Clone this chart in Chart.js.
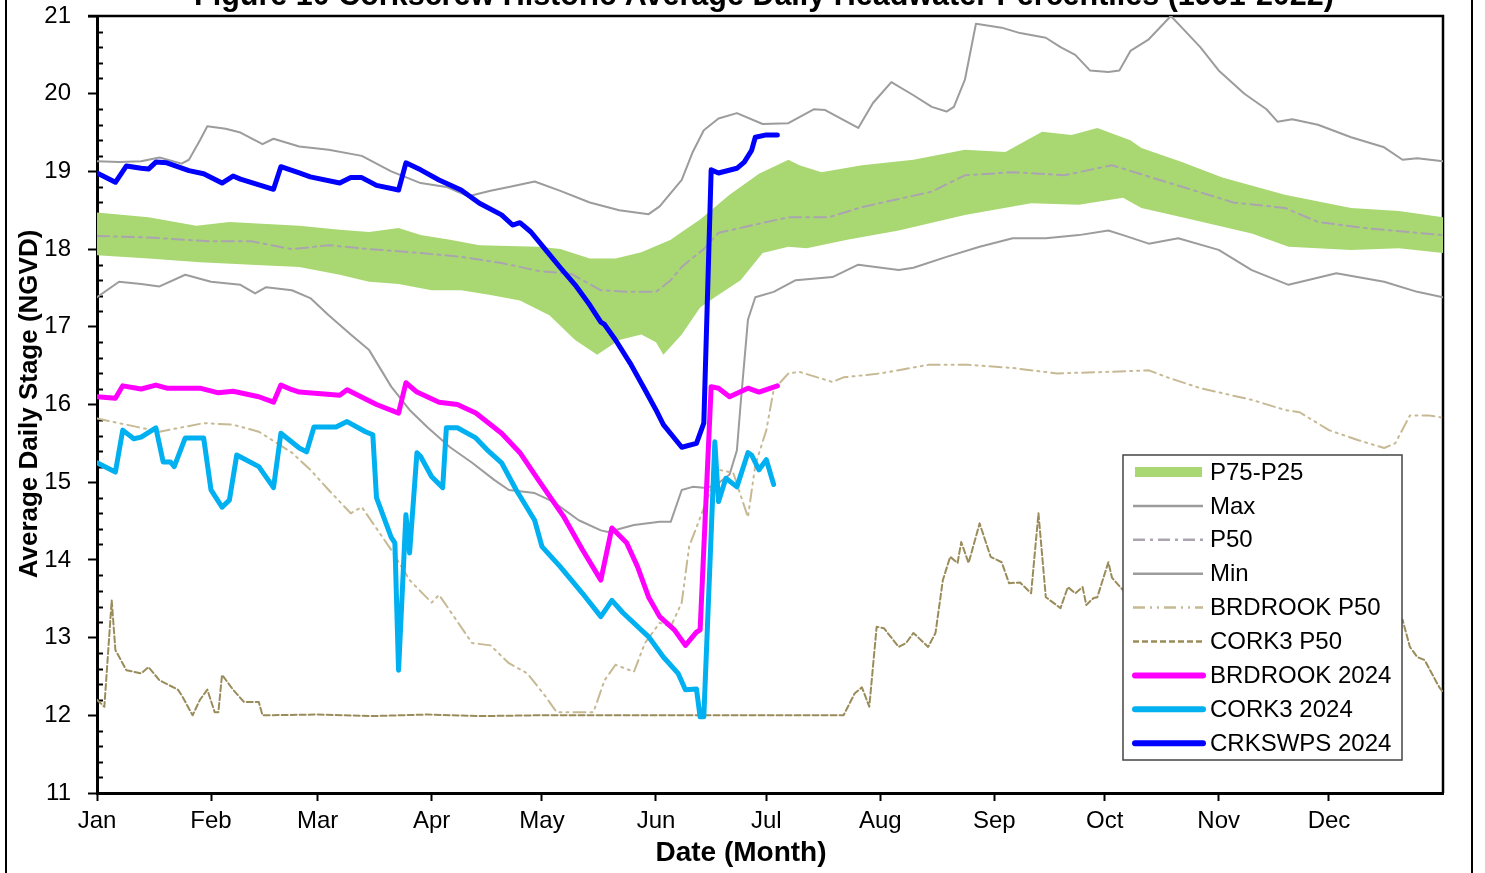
<!DOCTYPE html>
<html>
<head>
<meta charset="utf-8">
<script src="https://cdn.jsdelivr.net/npm/chart.js@4.4.1/dist/chart.umd.min.js"></script>
<style>
  html, body { margin: 0; padding: 0; background: #fff; }
  canvas { display: block; }
</style>
</head>
<body>
<canvas id="stageChart" width="1485" height="873"></canvas>
<script>
// ---- Day-of-year axis (2024, leap year) ----
const monthStarts = [0, 31, 60, 91, 121, 152, 182, 213, 244, 274, 305, 335];
const monthNames = ['Jan', 'Feb', 'Mar', 'Apr', 'May', 'Jun', 'Jul', 'Aug', 'Sep', 'Oct', 'Nov', 'Dec'];
const stageTicks = [11, 12, 13, 14, 15, 16, 17, 18, 19, 20, 21];

// ---- Historic percentiles (1991-2022) ----
const maxDay = [0,6,12,17,23,25,28,30,35,39,45,48,55,63,72,80,88,95,101,107,112,119,126,134,142,150,153,156,159,162,165,169,174,181,188,195,198,207,211,216,222,227,231,233,236,239,246,251,258,262,266,270,275,278,281,286,292,295,300,305,312,318,321,325,332,341,350,355,359,366];
const maxStage = [19.13,19.12,19.13,19.18,19.10,19.15,19.40,19.58,19.55,19.50,19.35,19.42,19.32,19.28,19.20,19.00,18.85,18.80,18.68,18.75,18.80,18.87,18.75,18.60,18.50,18.45,18.55,18.72,18.89,19.25,19.53,19.68,19.75,19.61,19.62,19.80,19.79,19.56,19.88,20.15,19.98,19.83,19.77,19.83,20.18,20.90,20.85,20.78,20.72,20.60,20.50,20.30,20.28,20.30,20.55,20.70,21.00,20.85,20.60,20.30,20.00,19.80,19.64,19.67,19.60,19.44,19.31,19.15,19.17,19.13];

const minDay = [0,6,12,17,24,31,39,43,46,53,58,63,69,74,80,85,90,96,102,108,112,119,124,131,137,139,146,153,156,159,162,165,168,172,174,175,177,179,184,190,200,207,218,222,231,240,249,258,267,275,279,286,294,305,314,324,337,350,359,366];
const minStage = [17.38,17.58,17.55,17.52,17.67,17.58,17.54,17.43,17.51,17.47,17.37,17.15,16.90,16.70,16.23,15.93,15.70,15.45,15.25,15.03,14.90,14.86,14.75,14.51,14.38,14.36,14.45,14.49,14.49,14.90,14.94,14.93,14.95,15.10,15.41,16.00,17.09,17.38,17.45,17.60,17.64,17.80,17.73,17.76,17.90,18.03,18.14,18.14,18.18,18.24,18.18,18.07,18.14,17.99,17.73,17.54,17.69,17.58,17.45,17.38];

const p50Day = [0,14,31,42,53,63,74,88,99,110,120,129,137,145,152,156,159,161,165,169,188,199,208,227,236,249,263,276,291,309,323,332,345,359,366];
const p50Stage = [18.17,18.15,18.10,18.10,18.00,18.05,18.00,17.95,17.90,17.82,17.72,17.68,17.47,17.45,17.45,17.60,17.77,17.85,18.00,18.21,18.41,18.41,18.54,18.74,18.95,18.99,18.95,19.08,18.86,18.60,18.53,18.35,18.27,18.21,18.18];

const p75Day = [0,14,27,36,55,66,74,82,88,96,104,120,126,134,141,148,156,159,164,172,180,188,191,197,208,222,236,247,257,265,272,281,284,295,306,323,341,354,366];
const p75Stage = [18.47,18.41,18.30,18.35,18.30,18.25,18.22,18.27,18.18,18.12,18.05,18.03,18.00,17.88,17.88,17.96,18.12,18.22,18.38,18.70,18.97,19.15,19.08,18.99,19.08,19.15,19.28,19.25,19.51,19.47,19.56,19.40,19.30,19.12,18.92,18.70,18.53,18.49,18.41];

const p25Day = [0,14,28,42,55,66,74,82,91,99,107,115,123,130,136,142,148,152,154,159,164,168,175,181,188,193,204,218,236,254,267,279,284,295,314,324,341,354,366];
const p25Stage = [17.92,17.88,17.83,17.80,17.77,17.67,17.58,17.55,17.47,17.47,17.41,17.34,17.15,16.83,16.64,16.83,16.90,16.80,16.64,16.90,17.25,17.38,17.60,17.95,18.03,18.01,18.12,18.24,18.44,18.59,18.57,18.66,18.53,18.41,18.20,18.03,17.99,18.01,17.95];

// ---- Nearby gauge medians ----
const brdP50Day = [0,17,29,37,44,53,58,63,69,72,80,85,91,93,102,107,112,117,122,125,135,138,141,146,149,153,156,159,161,169,173,177,179,182,184,188,191,200,203,213,226,237,249,261,275,286,291,300,314,323,327,335,343,350,353,357,362,366];
const brdP50Stage = [15.82,15.65,15.76,15.74,15.65,15.38,15.16,14.90,14.60,14.68,14.13,13.74,13.45,13.55,12.93,12.90,12.67,12.54,12.24,12.04,12.04,12.45,12.65,12.56,12.93,13.19,13.14,13.45,14.17,15.16,15.12,14.55,15.22,15.67,16.19,16.40,16.42,16.29,16.35,16.40,16.51,16.51,16.47,16.40,16.42,16.44,16.35,16.21,16.06,15.93,15.90,15.67,15.54,15.44,15.50,15.86,15.86,15.83];

const cork3P50Day = [0,2,4,5,8,12,14,17,22,23,26,28,30,32,33,34,37,40,44,45,60,75,90,105,120,135,150,165,180,195,203,206,208,210,212,214,218,220,222,226,228,230,232,234,235,237,240,243,246,248,251,254,256,258,262,264,266,268,269,271,272,275,276,279,289,300,316,327,341,349,353,355,357,359,361,365,366];
const cork3P50Stage = [12.20,12.11,13.48,12.84,12.58,12.54,12.62,12.45,12.33,12.26,12.00,12.20,12.33,12.04,12.04,12.52,12.33,12.17,12.17,12.00,12.01,11.99,12.01,11.99,12.00,12.00,12.00,12.00,12.00,12.00,12.00,12.28,12.36,12.11,13.14,13.12,12.88,12.93,13.06,12.88,13.06,13.74,14.04,13.96,14.23,13.96,14.47,14.04,13.97,13.70,13.71,13.57,14.60,13.52,13.38,13.65,13.57,13.65,13.42,13.51,13.52,13.97,13.77,13.61,13.50,13.40,13.50,13.30,13.30,13.20,13.15,13.23,12.88,12.75,12.71,12.36,12.30];

// ---- 2024 daily stages ----
const brd2024Day = [0,5,7,12,16,19,28,33,37,44,48,50,53,55,66,68,76,82,84,87,93,98,103,110,115,120,127,132,137,140,144,147,150,153,157,160,163,164,167,169,172,177,180,185];
const brd2024Stage = [16.10,16.08,16.24,16.20,16.25,16.21,16.21,16.15,16.17,16.10,16.03,16.25,16.19,16.16,16.12,16.19,16.00,15.89,16.28,16.16,16.03,16.00,15.89,15.63,15.38,15.03,14.55,14.13,13.74,14.41,14.22,13.91,13.52,13.27,13.10,12.90,13.07,13.10,16.23,16.21,16.10,16.21,16.16,16.24];

const cork2024Day = [0,5,7,10,12,16,18,20,21,24,28,29,31,34,36,38,44,48,50,55,57,59,65,68,73,75,76,80,81,82,84,85,87,88,91,94,95,98,103,106,110,114,119,121,126,132,137,140,143,150,154,158,160,163,164,165,168,169,171,174,177,178,180,182,184];
const cork2024Stage = [15.25,15.13,15.67,15.56,15.58,15.70,15.26,15.26,15.20,15.57,15.57,15.57,14.90,14.68,14.77,15.35,15.20,14.93,15.63,15.44,15.39,15.71,15.71,15.78,15.65,15.61,14.80,14.29,14.22,12.58,14.58,14.09,15.38,15.33,15.07,14.93,15.70,15.70,15.57,15.42,15.25,14.90,14.51,14.17,13.91,13.57,13.27,13.48,13.32,13.01,12.75,12.54,12.33,12.34,11.98,11.98,15.52,14.75,15.05,14.94,15.38,15.35,15.16,15.29,14.97];

const crk2024Day = [0,5,8,12,14,16,19,25,29,34,37,39,48,50,55,58,66,69,72,76,82,84,88,93,99,104,110,113,115,118,122,126,130,134,137,138,141,145,149,152,154,159,163,165,167,169,174,176,178,179,182,185];
const crk2024Stage = [18.98,18.86,19.07,19.04,19.03,19.12,19.11,19.01,18.97,18.85,18.94,18.90,18.77,19.06,18.98,18.93,18.85,18.92,18.92,18.82,18.76,19.11,19.02,18.89,18.76,18.59,18.44,18.31,18.34,18.22,17.99,17.76,17.54,17.28,17.06,17.03,16.83,16.53,16.19,15.93,15.74,15.45,15.50,15.76,19.02,18.98,19.04,19.12,19.27,19.44,19.47,19.47];

const chartTitle = 'Figure 10 Corkscrew Historic Average Daily Headwater Percentiles (1991-2022)';
const xTitle = 'Date (Month)';
const yTitle = 'Average Daily Stage (NGVD)';

const FONT = '"Liberation Sans", Arial, Helvetica, sans-serif';

function pts(days, vals) {
  return days.map((d, i) => ({ x: d, y: vals[i] }));
}

const bandColor = '#a9d873';

const datasets = [
  { label: 'P75-P25', data: pts(p75Day, p75Stage), borderWidth: 0, borderColor: 'rgba(0,0,0,0)',
    backgroundColor: bandColor, fill: '+1', order: 20, legendBand: true },
  { label: 'P25', data: pts(p25Day, p25Stage), borderWidth: 0, borderColor: 'rgba(0,0,0,0)',
    fill: false, order: 21, noLegend: true },
  { label: 'Max', data: pts(maxDay, maxStage), borderColor: '#9c9c9c', borderWidth: 2, order: 9 },
  { label: 'P50', data: pts(p50Day, p50Stage), borderColor: '#aaa4b0', borderWidth: 2,
    borderDash: [12, 5, 3, 5], order: 8 },
  { label: 'Min', data: pts(minDay, minStage), borderColor: '#9c9c9c', borderWidth: 2, order: 7 },
  { label: 'BRDROOK P50', data: pts(brdP50Day, brdP50Stage), borderColor: '#c6b993', borderWidth: 2,
    borderDash: [12, 5, 2, 5, 2, 5], order: 6 },
  { label: 'CORK3 P50', data: pts(cork3P50Day, cork3P50Stage), borderColor: '#9a8c5a', borderWidth: 2,
    borderDash: [6, 3], order: 5 },
  { label: 'BRDROOK 2024', data: pts(brd2024Day, brd2024Stage), borderColor: '#ff00ff', borderWidth: 5, order: 3 },
  { label: 'CORK3 2024', data: pts(cork2024Day, cork2024Stage), borderColor: '#00b0f0', borderWidth: 5, order: 2 },
  { label: 'CRKSWPS 2024', data: pts(crk2024Day, crk2024Stage), borderColor: '#0000ff', borderWidth: 5, order: 1 }
];

const decorations = {
  id: 'decorations',
  beforeDatasetsDraw(chart) {
    const { ctx, chartArea: a } = chart;
    const y = chart.scales.y;
    ctx.save();
    // top and right plot border
    ctx.strokeStyle = '#000';
    ctx.lineWidth = 2.5;
    ctx.beginPath();
    ctx.moveTo(a.left - 9, a.top);
    ctx.lineTo(a.right, a.top);
    ctx.lineTo(a.right, a.bottom);
    ctx.stroke();
    // minor ticks on the stage axis, every 0.2 ft
    ctx.lineWidth = 2;
    for (let i = 0; i <= 50; i++) {
      if (i % 5 === 0) continue;
      const py = Math.round(y.getPixelForValue(11 + i * 0.2)) + 0.5;
      ctx.beginPath();
      ctx.moveTo(a.left, py);
      ctx.lineTo(a.left + 6, py);
      ctx.stroke();
    }
    ctx.restore();
  },
  afterDraw(chart) {
    const { ctx } = chart;
    ctx.save();
    // outer figure frame
    ctx.strokeStyle = '#000';
    ctx.lineWidth = 2;
    ctx.beginPath();
    ctx.moveTo(6, 0); ctx.lineTo(6, 873);
    ctx.moveTo(1472, 0); ctx.lineTo(1472, 873);
    ctx.stroke();

    // chart title
    ctx.fillStyle = '#000';
    ctx.font = 'bold 30.5px ' + FONT;
    ctx.textAlign = 'center';
    ctx.textBaseline = 'alphabetic';
    ctx.fillText(chartTitle, 764, 5);

    // axis titles
    ctx.font = 'bold 28px ' + FONT;
    ctx.fillText(xTitle, 741, 861);
    ctx.save();
    ctx.translate(37, 404);
    ctx.rotate(-Math.PI / 2);
    ctx.font = 'bold 26px ' + FONT;
    ctx.fillText(yTitle, 0, 0);
    ctx.restore();

    // legend box
    const lx = 1123, ly = 455, lw = 279, lh = 305;
    ctx.fillStyle = '#fff';
    ctx.fillRect(lx, ly, lw, lh);
    ctx.strokeStyle = '#444';
    ctx.lineWidth = 1.5;
    ctx.strokeRect(lx, ly, lw, lh);
    const items = chart.data.datasets.filter(d => !d.noLegend);
    ctx.font = '24px ' + FONT;
    ctx.textAlign = 'left';
    ctx.textBaseline = 'middle';
    items.forEach((d, i) => {
      const cy = 472 + i * 33.9;
      if (d.legendBand) {
        ctx.fillStyle = d.backgroundColor;
        ctx.fillRect(1135, cy - 5, 67, 10);
      } else {
        ctx.save();
        ctx.strokeStyle = d.borderColor;
        ctx.lineWidth = d.borderWidth >= 4 ? 6 : 2.5;
        ctx.lineCap = d.borderWidth >= 4 ? 'round' : 'butt';
        ctx.setLineDash(d.borderDash || []);
        ctx.beginPath();
        ctx.moveTo(d.borderWidth >= 4 ? 1135 : 1133, cy);
        ctx.lineTo(1203, cy);
        ctx.stroke();
        ctx.restore();
      }
      ctx.fillStyle = '#000';
      ctx.fillText(d.label, 1210, cy + 1);
    });
    ctx.restore();
  }
};

new Chart(document.getElementById('stageChart'), {
  type: 'line',
  data: { datasets },
  options: {
    responsive: false,
    animation: false,
    devicePixelRatio: 1,
    layout: { padding: { left: 0, right: 42, top: 16, bottom: 0 } },
    elements: {
      point: { radius: 0, hoverRadius: 0 },
      line: { tension: 0, borderJoinStyle: 'round', borderCapStyle: 'round' }
    },
    plugins: {
      legend: { display: false },
      title: { display: false },
      tooltip: { enabled: false },
      filler: { propagate: false }
    },
    scales: {
      x: {
        type: 'linear',
        min: 0,
        max: 366,
        afterFit(s) { s.height = 80; s.paddingLeft = 0; s.paddingRight = 0; },
        afterBuildTicks(s) { s.ticks = monthStarts.map(v => ({ value: v })); },
        ticks: {
          autoSkip: false,
          maxRotation: 0,
          padding: 6,
          color: '#000',
          font: { family: FONT, size: 24 },
          callback: (v, i) => monthNames[i]
        },
        grid: { display: true, drawOnChartArea: false, drawTicks: true, tickLength: 8, tickWidth: 2, tickColor: '#000' },
        border: { display: true, color: '#000', width: 3 }
      },
      y: {
        type: 'linear',
        min: 11,
        max: 21,
        afterFit(s) { s.width = 97; s.paddingTop = 0; s.paddingBottom = 0; },
        afterBuildTicks(s) { s.ticks = stageTicks.map(v => ({ value: v })); },
        ticks: {
          padding: 17,
          color: '#000',
          font: { family: FONT, size: 24 },
          callback: v => String(v)
        },
        grid: { display: true, drawOnChartArea: false, drawTicks: true, tickLength: 9, tickWidth: 2, tickColor: '#000' },
        border: { display: true, color: '#000', width: 3 }
      }
    }
  },
  plugins: [decorations]
});
</script>
</body>
</html>
